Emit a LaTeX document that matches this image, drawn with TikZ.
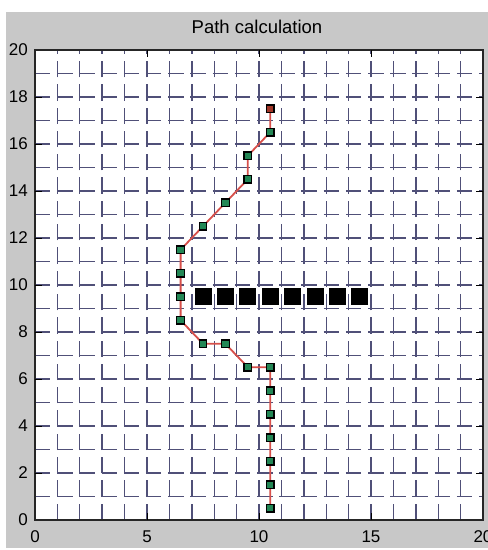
\documentclass[tikz,border=0pt]{standalone}
\usepackage{fontspec}
\setmainfont{Liberation Sans}
\usetikzlibrary{positioning}
\definecolor{PanelGray}{RGB}{200,200,200}
\definecolor{GridBlue}{RGB}{80,80,120}
\definecolor{RouteRed}{RGB}{215,80,75}
\definecolor{CellGreen}{RGB}{35,135,85}
\definecolor{GoalRed}{RGB}{160,55,40}

\begin{document}
\begin{tikzpicture}[x=22.4pt, y=23.5pt,
    lbl/.style={font=\fontsize{17}{17}\selectfont, inner sep=0pt},
    vgrid/.style={GridBlue, line width=1.4pt, dash pattern=on 16.3pt off 7pt},
    hgrid/.style={GridBlue, line width=1.4pt, dash pattern=on 15.5pt off 6.7pt},
    cell/.style={draw=black, line width=1.3pt, fill=CellGreen, minimum size=7.5pt, inner sep=0pt},
    wall/.style={fill=black, minimum size=17pt, inner sep=0pt},
    route/.style={RouteRed, line width=1.8pt}
  ]
  \useasboundingbox (-35pt,-30pt) rectangle (453pt,520pt);
  % figure window and axes
  \fill[PanelGray] (-29pt,-28pt) rectangle (453pt,508pt);
  \fill[white] (0,0) rectangle (20,20);
  \foreach \k in {1,...,19} {
    \draw[vgrid] (\k,0) -- (\k,20);
    \draw[hgrid] (0,\k) -- (20,\k);
  }
  \draw[black!85, line width=1.4pt] (0,0) rectangle (20,20);
  \foreach \k in {5,10,15} {
    \draw[black, line width=0.9pt] (\k,0) -- ++(0,7pt) (\k,20) -- ++(0,-7pt);
  }
  \foreach \k in {2,4,...,18} {
    \draw[black, line width=0.9pt] (0,\k) -- ++(7pt,0) (20,\k) -- ++(-7pt,0);
  }
  \node[lbl] (title) at (222pt,493pt) {\fontsize{18.5}{18.5}\selectfont Path calculation};
  \foreach \k in {0,5,...,20}
    \node[lbl, yshift=-17pt] (xl\k) at (\k,0) {\k};
  \foreach \k in {0,2,...,20}
    \node[lbl, anchor=east, xshift=-7pt] (yl\k) at (0,\k) {\k};

  % obstacle row
  \foreach \k [count=\j] in {7.5,8.5,...,14.5}
    \node[wall] (w\j) at (\k,9.5) {};

  % computed path
  \foreach \px/\py [count=\i] in {10.5/0.5, 10.5/1.5, 10.5/2.5, 10.5/3.5, 10.5/4.5,
      10.5/5.5, 10.5/6.5, 9.5/6.5, 8.5/7.5, 7.5/7.5, 6.5/8.5, 6.5/9.5, 6.5/10.5,
      6.5/11.5, 7.5/12.5, 8.5/13.5, 9.5/14.5, 9.5/15.5, 10.5/16.5, 10.5/17.5}
    \coordinate (p\i) at (\px,\py);
  \draw[route] (p1) foreach \i in {2,...,20} { -- (p\i) };
  \foreach \i in {1,...,19}
    \node[cell] (c\i) at (p\i) {};
  \node[cell, fill=GoalRed] (goal) at (p20) {};
\end{tikzpicture}
\end{document}
